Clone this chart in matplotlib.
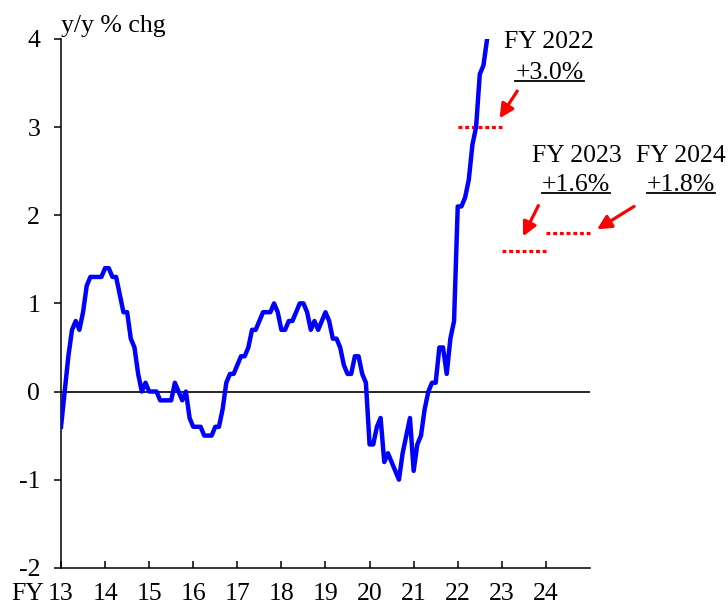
import matplotlib.pyplot as plt
import numpy as np
from matplotlib.lines import Line2D
from matplotlib.transforms import IdentityTransform

plt.rcParams['font.family'] = ['Liberation Serif', 'DejaVu Serif']
plt.rcParams['font.size'] = 18.5
plt.rcParams['axes.unicode_minus'] = False

# y/y % chg, monthly from April 2013 (start of FY13) to December 2022
cpi = [
    -0.4, 0.0, 0.4, 0.7, 0.8, 0.7, 0.9, 1.2, 1.3, 1.3, 1.3, 1.3,        # FY13
    1.4, 1.4, 1.3, 1.3, 1.1, 0.9, 0.9, 0.6, 0.5, 0.2, 0.0, 0.1,         # FY14
    0.0, 0.0, 0.0, -0.1, -0.1, -0.1, -0.1, 0.1, 0.0, -0.1, 0.0, -0.3,   # FY15
    -0.4, -0.4, -0.4, -0.5, -0.5, -0.5, -0.4, -0.4, -0.2, 0.1, 0.2, 0.2,  # FY16
    0.3, 0.4, 0.4, 0.5, 0.7, 0.7, 0.8, 0.9, 0.9, 0.9, 1.0, 0.9,         # FY17
    0.7, 0.7, 0.8, 0.8, 0.9, 1.0, 1.0, 0.9, 0.7, 0.8, 0.7, 0.8,         # FY18
    0.9, 0.8, 0.6, 0.6, 0.5, 0.3, 0.2, 0.2, 0.4, 0.4, 0.2, 0.1,         # FY19
    -0.6, -0.6, -0.4, -0.3, -0.8, -0.7, -0.8, -0.9, -1.0, -0.7, -0.5, -0.3,  # FY20
    -0.9, -0.6, -0.5, -0.2, 0.0, 0.1, 0.1, 0.5, 0.5, 0.2, 0.6, 0.8,     # FY21
    2.1, 2.1, 2.2, 2.4, 2.8, 3.0, 3.6, 3.7, 4.0,                        # FY22
]
start_fy = 13
fy_ticks = list(range(13, 25))
fy_tick_labels = [str(y) for y in fy_ticks]
y_ticks = list(range(-2, 5))

# forecasts (fiscal-year averages)
fc_years = [22, 23, 24]
fc_values = [3.0, 1.6, 1.8]
fc_titles = ['FY 2022', 'FY 2023', 'FY 2024']
fc_labels = ['+3.0%', '+1.6%', '+1.8%']

# annotation layout (data coords)
title_pos = [(24.07, 3.90), (24.70, 2.60), (27.07, 2.60)]
label_pos = [(24.08, 3.55), (24.69, 2.27), (27.07, 2.27)]
arrow_tail = [(23.35, 3.41), (23.83, 2.11), (26.0, 2.10)]
arrow_tip = [(22.95, 3.10), (23.48, 1.76), (25.16, 1.84)]

x = start_fy + np.arange(len(cpi)) / 12

fig = plt.figure(figsize=(7.28, 6.08), dpi=100)
ax = fig.add_axes([0.0838, 0.0661, 0.7266, 0.8698])

ax.axhline(0, color='black', lw=1.2, zorder=1)
ax.plot(x, cpi, color='#0000ff', lw=3.2, zorder=3)

for fy, v in zip(fc_years, fc_values):
    ax.plot([fy, fy + 1], [v, v], color='red', lw=2.3, dashes=(1.2, 0.9),
            clip_on=False, zorder=2)

for tail, tip in zip(arrow_tail, arrow_tip):
    ax.annotate('', xy=tip, xytext=tail, annotation_clip=False,
                arrowprops=dict(arrowstyle='-|>', color='red', lw=2.3,
                                mutation_scale=21, shrinkA=0, shrinkB=0))

for (tx, ty), t in zip(title_pos, fc_titles):
    ax.text(tx, ty, t, ha='center', va='baseline', clip_on=False)
under = []
for (lx, ly), t in zip(label_pos, fc_labels):
    under.append(ax.text(lx, ly, t, ha='center', va='baseline', clip_on=False))

ax.set_xlim(13, 25)
ax.set_ylim(-2, 4)
ax.set_xticks(fy_ticks, fy_tick_labels)
ax.set_yticks(y_ticks)
ax.tick_params(axis='x', direction='in', length=5, width=1.1, pad=11)
ax.tick_params(axis='y', direction='out', length=5, width=1.1, pad=10)
for s in ['top', 'right']:
    ax.spines[s].set_visible(False)
for s in ['left', 'bottom']:
    ax.spines[s].set_linewidth(1.1)

ax.annotate('FY', xy=(13, -2), xytext=(-12.5, -11), textcoords='offset points',
            ha='right', va='top', annotation_clip=False)
fig.text(0.0838, 1 - 32 / 608, 'y/y % chg', ha='left', va='baseline')

# underline the forecast figures
fig.canvas.draw()
for t in under:
    bb = t.get_window_extent()
    base = ax.transData.transform(t.get_position())[1]
    fig.add_artist(Line2D([bb.x0, bb.x1], [base - 2, base - 2], color='black',
                          lw=1.3, transform=IdentityTransform()))

fig.savefig('out.png', dpi=100)
